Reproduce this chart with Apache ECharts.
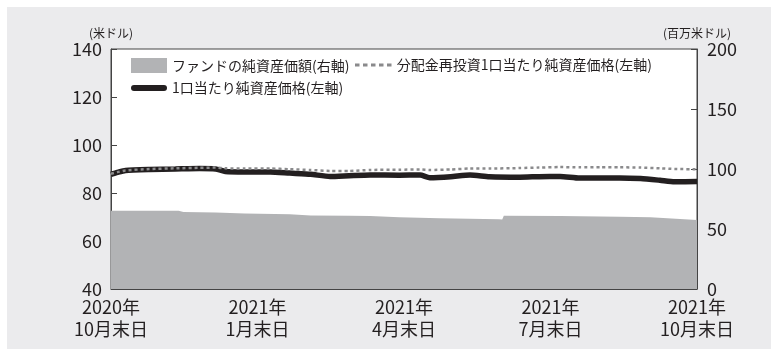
<!DOCTYPE html>
<html><head><meta charset="utf-8">
<script src="https://cdn.jsdelivr.net/npm/echarts@6/dist/echarts.min.js"></script>
<style>
html,body{margin:0;padding:0;background:#fff;}
#bg{position:absolute;left:7px;top:7px;width:764px;height:342px;background:#ebebed;}
#chart{position:absolute;left:0;top:0;width:771px;height:349px;}
</style></head>
<body><div id="bg"></div><div id="chart"></div>
<script>
const startDate = '2020-10-30';
const tickLabels = ['2020年\n10月末日','2021年\n1月末日','2021年\n4月末日','2021年\n7月末日','2021年\n10月末日'];

const navDates = ['2020-10-30','2020-11-03','2020-11-08','2020-11-23','2020-12-09','2020-12-24','2021-01-03','2021-01-09','2021-01-21','2021-02-06','2021-02-18','2021-03-03','2021-03-15','2021-03-27','2021-04-09','2021-04-27','2021-05-10','2021-05-16','2021-05-29','2021-06-10','2021-06-22','2021-07-11','2021-07-23','2021-08-05','2021-08-17','2021-08-30','2021-09-11','2021-09-24','2021-10-06','2021-10-15','2021-10-29'];
const navValues = [87.8,88.6,89.4,89.8,90.0,90.2,90.0,89.0,88.8,88.8,88.3,87.8,86.9,87.2,87.5,87.4,87.5,86.4,86.8,87.5,86.8,86.6,86.8,86.9,86.2,86.3,86.3,86.0,85.3,84.7,84.8];
const reinvestValues = [88.0,88.7,89.4,90.0,90.3,90.5,90.6,90.3,90.2,90.2,89.9,89.6,89.2,89.2,89.6,89.7,89.8,89.6,89.8,90.2,90.2,90.4,90.6,90.8,90.7,90.7,90.7,90.6,90.3,90.0,89.9];

const fundDates = ['2020-10-30','2020-12-11','2020-12-14','2021-01-03','2021-01-21','2021-02-18','2021-03-03','2021-03-27','2021-04-09','2021-04-27','2021-05-22','2021-06-28','2021-06-30','2021-07-01','2021-08-05','2021-09-11','2021-09-30','2021-10-29'];
const fundValues = [65.3,65.3,64.2,63.8,63.0,62.2,61.2,61.0,60.8,59.8,58.9,58.1,58.0,61.0,60.8,60.3,59.7,57.5];

const names = ['ファンドの純資産価額(右軸)','分配金再投資1口当たり純資産価格(左軸)','1口当たり純資産価格(左軸)'];

const t0 = Date.parse(startDate);
const dayOf = d => Math.round((Date.parse(d) - t0) / 86400000);
const pairs = (ds, vs) => ds.map((d, i) => [dayOf(d), vs[i]]);

let dotPath = 'path://';
for (let i = 0; i < 5; i++) dotPath += 'M' + (i * 8) + ',0h4.5v3h-4.5z';
const barPath = 'path://M3,0H33A3,3 0 0 1 33,6H3A3,3 0 0 1 3,0Z';

const FONT = '"Noto Sans CJK JP","Noto Sans",sans-serif';
const TXT = '#231f20';

const chart = echarts.init(document.getElementById('chart'), null, {renderer:'canvas'});
chart.setOption({
  animation:false,
  textStyle:{fontFamily:FONT,color:TXT},
  grid:{left:111,right:74,top:49,bottom:60,show:true,backgroundColor:'#ffffff',borderColor:'#444',borderWidth:1},
  legend:[
    {data:[{name:names[0],icon:'rect'}],left:126,top:53,itemWidth:36,itemHeight:15,itemGap:8,textStyle:{fontSize:14,color:TXT,fontFamily:FONT}},
    {data:[{name:names[1],icon:dotPath}],left:350,top:53,itemWidth:37,itemHeight:3,itemStyle:{color:'#8a8a8c'},textStyle:{fontSize:14,color:TXT,fontFamily:FONT}},
    {data:[{name:names[2],icon:barPath}],left:126,top:76,itemWidth:36,itemHeight:6,itemStyle:{color:'#231f20'},textStyle:{fontSize:14,color:TXT,fontFamily:FONT}}
  ],
  xAxis:{type:'value',min:0,max:364,interval:91,
    axisLine:{lineStyle:{color:'#444',width:1}},
    axisTick:{inside:true,length:6,lineStyle:{color:'#444'}},
    splitLine:{show:false},
    axisLabel:{color:TXT,fontSize:18,lineHeight:22,margin:7,fontFamily:FONT,
      formatter:v=>tickLabels[Math.round(v/91)]}},
  yAxis:[
    {type:'value',min:40,max:140,interval:20,position:'left',name:'(米ドル)',nameLocation:'end',nameGap:10,
      nameTextStyle:{fontSize:12,color:TXT,fontFamily:FONT,align:'center'},
      axisLine:{show:true,lineStyle:{color:'#444'}},axisTick:{show:true,inside:true,length:6,lineStyle:{color:'#444'}},
      splitLine:{show:false},axisLabel:{color:TXT,fontSize:18,margin:9,fontFamily:FONT}},
    {type:'value',min:0,max:200,interval:50,position:'right',name:'(百万米ドル)',nameLocation:'end',nameGap:10,
      nameTextStyle:{fontSize:12,color:TXT,fontFamily:FONT,align:'center'},
      axisLine:{show:true,lineStyle:{color:'#444'}},axisTick:{show:true,inside:true,length:6,lineStyle:{color:'#444'}},
      splitLine:{show:false},axisLabel:{color:TXT,fontSize:18,margin:10,fontFamily:FONT}}
  ],
  series:[
    {name:names[0],type:'line',yAxisIndex:1,data:pairs(fundDates,fundValues),symbol:'none',
      itemStyle:{color:'#b2b3b5'},lineStyle:{width:0,color:'#b2b3b5'},areaStyle:{color:'#b2b3b5',opacity:1},z:1},
    {name:names[2],type:'line',yAxisIndex:0,data:pairs(navDates,navValues),symbol:'none',smooth:0.2,
      itemStyle:{color:'#231f20'},lineStyle:{width:5.5,color:'#231f20'},z:2},
    {name:names[1],type:'line',yAxisIndex:0,data:pairs(navDates,reinvestValues),symbol:'none',smooth:0.2,
      itemStyle:{color:'#8a8a8c'},lineStyle:{width:2.5,color:'#8a8a8c',type:[3,3]},z:3}
  ]
});
</script></body></html>
